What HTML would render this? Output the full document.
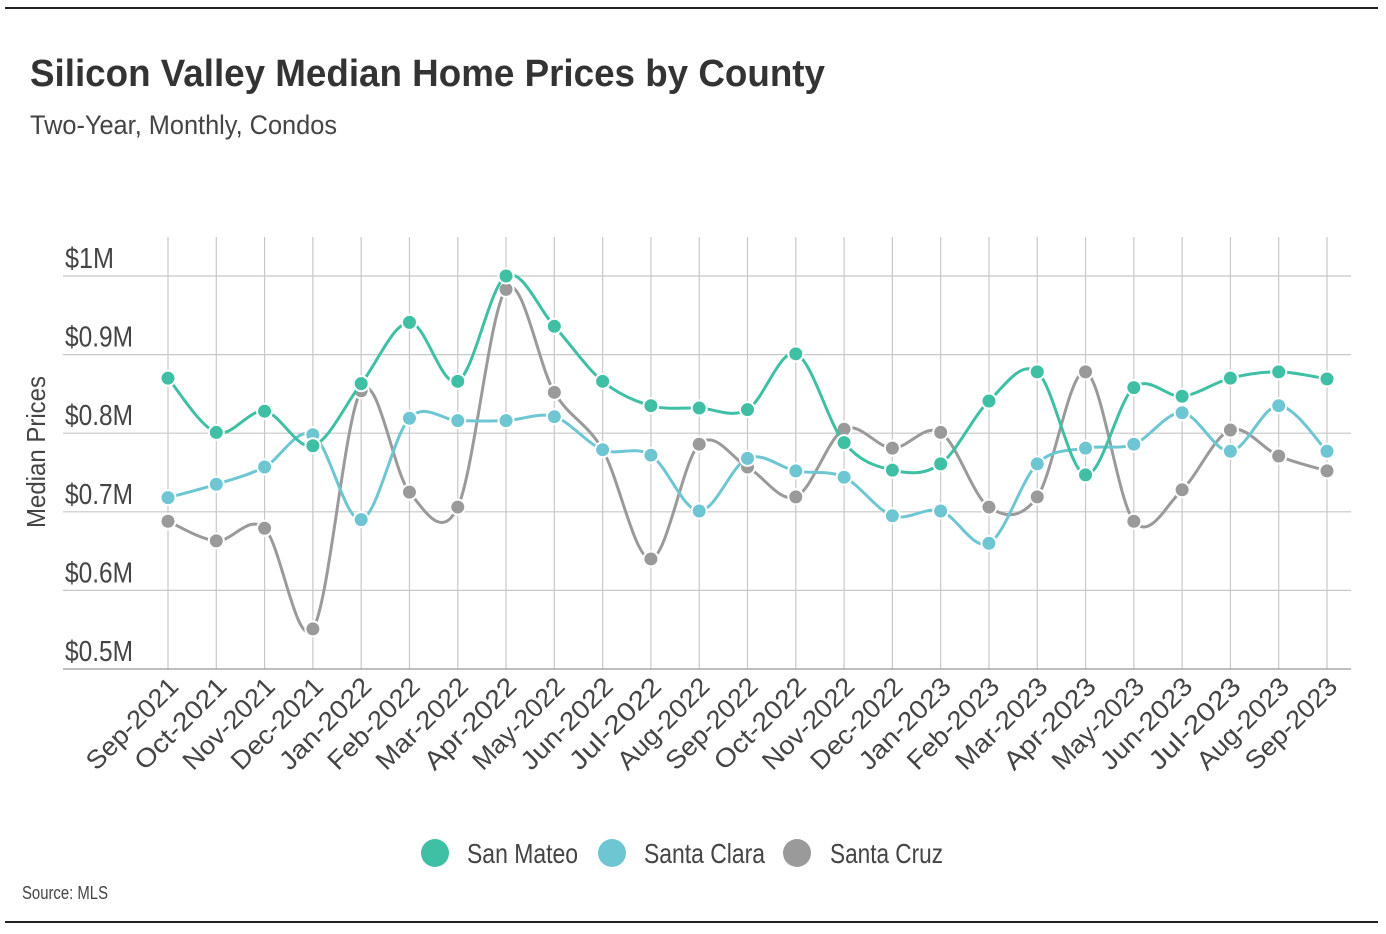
<!DOCTYPE html>
<html><head><meta charset="utf-8"><style>
body{margin:0;background:#fff;}
svg{display:block;font-family:"Liberation Sans Narrow","Liberation Sans",sans-serif;}
</style></head><body>
<svg id="chart" width="1386" height="934" viewBox="0 0 1386 934">
<line x1="5" y1="8" x2="1378" y2="8" stroke="#222" stroke-width="2"/>
<line x1="5" y1="922" x2="1378" y2="922" stroke="#222" stroke-width="2"/>
<text x="30" y="86" font-size="38" font-weight="bold" fill="#333" textLength="795" lengthAdjust="spacingAndGlyphs">Silicon Valley Median Home Prices by County</text>
<text x="30" y="134" font-size="27" fill="#444" textLength="307" lengthAdjust="spacingAndGlyphs">Two-Year, Monthly, Condos</text>
<text transform="translate(45,452) rotate(-90)" text-anchor="middle" font-size="26" fill="#444" textLength="152" lengthAdjust="spacingAndGlyphs">Median Prices</text>
<g id="grid"></g><g id="series"></g><g id="xlabels"></g>
<g>
<g><circle cx="435" cy="853" r="14" fill="#3fbfa3"/><text x="467" y="863" font-size="28" fill="#444" textLength="111" lengthAdjust="spacingAndGlyphs">San Mateo</text></g>
<g><circle cx="612" cy="853" r="14" fill="#6ec6d2"/><text x="644" y="863" font-size="28" fill="#444" textLength="121" lengthAdjust="spacingAndGlyphs">Santa Clara</text></g>
<g><circle cx="797" cy="853" r="14" fill="#9a9a9a"/><text x="830" y="863" font-size="28" fill="#444" textLength="113" lengthAdjust="spacingAndGlyphs">Santa Cruz</text></g>
</g>
<text x="22" y="899" font-size="18" fill="#444" textLength="86" lengthAdjust="spacingAndGlyphs">Source: MLS</text>
</svg>
<script>
const categories=["Sep-2021","Oct-2021","Nov-2021","Dec-2021","Jan-2022","Feb-2022","Mar-2022","Apr-2022","May-2022","Jun-2022","Jul-2022","Aug-2022","Sep-2022","Oct-2022","Nov-2022","Dec-2022","Jan-2023","Feb-2023","Mar-2023","Apr-2023","May-2023","Jun-2023","Jul-2023","Aug-2023","Sep-2023"];
const sanMateo=[0.870,0.801,0.828,0.784,0.863,0.941,0.866,1.0,0.936,0.866,0.835,0.832,0.830,0.901,0.788,0.753,0.761,0.841,0.878,0.747,0.858,0.847,0.870,0.878,0.869];
const santaClara=[0.718,0.735,0.757,0.798,0.690,0.819,0.816,0.816,0.821,0.779,0.772,0.701,0.768,0.752,0.744,0.695,0.701,0.660,0.761,0.781,0.786,0.826,0.777,0.835,0.777];
const santaCruz=[0.688,0.663,0.679,0.551,0.854,0.725,0.706,0.983,0.852,0.779,0.640,0.786,0.757,0.719,0.805,0.781,0.801,0.706,0.719,0.878,0.688,0.728,0.804,0.771,0.752];
const yTicks=[0.5,0.6,0.7,0.8,0.9,1.0];
const yTickLabels=["$0.5M","$0.6M","$0.7M","$0.8M","$0.9M","$1M"];
const NS="http://www.w3.org/2000/svg";
const x=i=>168+i*(1327-168)/(categories.length-1);
const y=v=>669-(v-0.5)*(669-276)/0.5;
function mk(tag,attrs,parent){const e=document.createElementNS(NS,tag);for(const k in attrs)e.setAttribute(k,attrs[k]);parent.appendChild(e);return e;}
const grid=document.getElementById('grid');
categories.forEach((c,i)=>{const l=mk('line',{x1:x(i),x2:x(i),y1:237,y2:669,stroke:'#c8c8c8','stroke-width':1.2},grid);

});
yTicks.forEach((v,i)=>{const l=mk('line',{x1:63,x2:1351,y1:y(v),y2:y(v),stroke:i==0?'#999':'#c8c8c8','stroke-width':1.2},grid);


const lbl=yTickLabels[i];
const t=mk('text',{x:65,y:y(v)-8,'font-size':29,fill:'#444',textLength:lbl.length<4?49:lbl.length*13.6,lengthAdjust:'spacingAndGlyphs'},grid);t.textContent=lbl;

});
const xl=document.getElementById('xlabels');
categories.forEach((c,i)=>{const t=mk('text',{transform:`translate(${x(i)+12},${688}) rotate(-45)`,'text-anchor':'end','font-size':26,fill:'#444',textLength:118,lengthAdjust:'spacingAndGlyphs'},xl);t.textContent=c;

});
function path(vals){const p=vals.map((v,i)=>[x(i),y(v)]);let d=`M${p[0][0]},${p[0][1]}`;const k=0.5/3*2;
for(let i=0;i<p.length-1;i++){const p0=p[i-1]||p[i],p1=p[i],p2=p[i+1],p3=p[i+2]||p2;
d+=` C${p1[0]+(p2[0]-p0[0])*k/2},${p1[1]+(p2[1]-p0[1])*k/2} ${p2[0]-(p3[0]-p1[0])*k/2},${p2[1]-(p3[1]-p1[1])*k/2} ${p2[0]},${p2[1]}`;}return d;}
const sg=document.getElementById('series');
[[santaCruz,'#9a9a9a','santa-cruz'],[santaClara,'#6ec6d2','santa-clara'],[sanMateo,'#3fbfa3','san-mateo']].forEach(([vals,col,name])=>{
const g=mk('g',{},sg);


const l=mk('path',{d:path(vals),fill:'none',stroke:col,'stroke-width':3},g);


vals.forEach((v,i)=>{const c=mk('circle',{cx:x(i),cy:y(v),r:7.5,fill:col,stroke:'#fff','stroke-width':2},g);

});});
</script>
</body></html>
